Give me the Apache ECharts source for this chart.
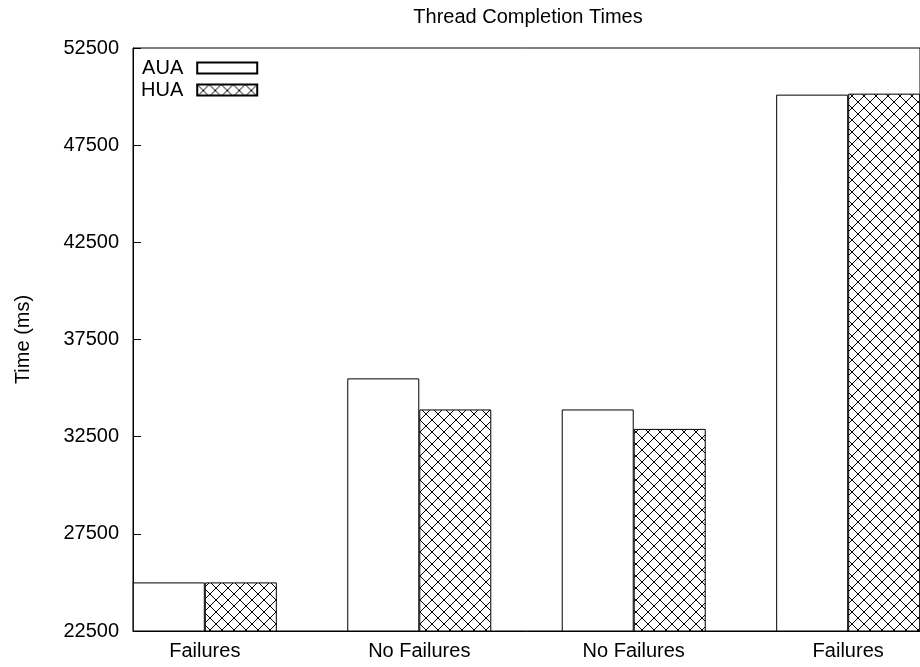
<!DOCTYPE html>
<html>
<head>
<meta charset="utf-8">
<script src="https://cdn.jsdelivr.net/npm/echarts@6/dist/echarts.min.js"></script>
<style>
html,body{margin:0;padding:0;background:#fff;}
#chart{width:920px;height:667px;}
</style>
</head>
<body>
<div id="chart"></div>
<script>
const categories = ['Failures', 'No Failures', 'No Failures', 'Failures'];
const auaValues = [25000, 35500, 33900, 50100];
const huaValues = [25000, 33900, 32900, 50150];
const yTicks = [22500, 27500, 32500, 37500, 42500, 47500, 52500];
const seriesNames = ['AUA', 'HUA'];

function hatchPattern(size) {
  const c = document.createElement('canvas');
  c.width = size; c.height = size;
  const g = c.getContext('2d');
  g.fillStyle = '#fff';
  g.fillRect(0, 0, size, size);
  g.strokeStyle = '#000';
  g.lineWidth = 1;
  for (const k of [-size, 0, size]) {
    g.beginPath(); g.moveTo(-2, -2 + k); g.lineTo(size + 2, size + 2 + k); g.stroke();
    g.beginPath(); g.moveTo(size + 2, -2 + k); g.lineTo(-2, size + 2 + k); g.stroke();
  }
  return c;
}

const FONT = 'Liberation Sans';
const halfBar = 72 / 215;

const chart = echarts.init(document.getElementById('chart'), null, {renderer: 'canvas'});
chart.setOption({
  backgroundColor: '#fff',
  animation: false,
  textStyle: {fontFamily: FONT, color: '#000'},
  title: {
    text: 'Thread Completion Times',
    left: 528, top: 7, textAlign: 'center', padding: 0,
    textStyle: {fontFamily: FONT, fontSize: 20, fontWeight: 'normal', color: '#000'}
  },
  legend: {
    orient: 'vertical',
    left: 141, top: 58, padding: 0,
    align: 'right',
    icon: 'rect',
    itemWidth: 60, itemHeight: 11, itemGap: 2,
    selectedMode: false,
    textStyle: {fontFamily: FONT, fontSize: 20, color: '#000', padding: [0, 9, 0, 0]},
    data: seriesNames
  },
  grid: {
    left: 133, top: 48, bottom: 36, right: -2,
    show: true, borderColor: '#000', borderWidth: 1, backgroundColor: 'transparent',
    containLabel: false
  },
  xAxis: {
    type: 'value',
    min: -halfBar, max: 3 + halfBar,
    axisLine: {show: true, onZero: false, lineStyle: {color: '#000', width: 1}},
    axisTick: {show: false},
    splitLine: {show: false},
    axisLabel: {
      customValues: [0, 1, 2, 3],
      formatter: v => categories[Math.round(v)],
      fontFamily: FONT, fontSize: 20, color: '#000', margin: 10
    }
  },
  yAxis: {
    type: 'value',
    min: 22500, max: 52500,
    name: 'Time (ms)', nameLocation: 'middle', nameGap: 100,
    nameTextStyle: {fontFamily: FONT, fontSize: 20, color: '#000'},
    axisLine: {show: true, onZero: false, lineStyle: {color: '#000', width: 1}},
    axisTick: {show: true, inside: true, length: 8, customValues: yTicks, lineStyle: {color: '#000'}},
    splitLine: {show: false},
    axisLabel: {
      customValues: yTicks,
      formatter: v => String(v),
      fontFamily: FONT, fontSize: 20, color: '#000', margin: 14
    }
  },
  series: [
    {
      name: seriesNames[0], type: 'bar', barWidth: 72, barGap: '0%',
      itemStyle: {color: '#fff', borderColor: '#000', borderWidth: 1},
      data: auaValues.map((v, i) => [i, v])
    },
    {
      name: seriesNames[1], type: 'bar', barWidth: 72, barGap: '0%',
      itemStyle: {color: {image: hatchPattern(12), repeat: 'repeat'}, borderColor: '#000', borderWidth: 1},
      data: huaValues.map((v, i) => [i, v])
    }
  ]
});
</script>
</body>
</html>
